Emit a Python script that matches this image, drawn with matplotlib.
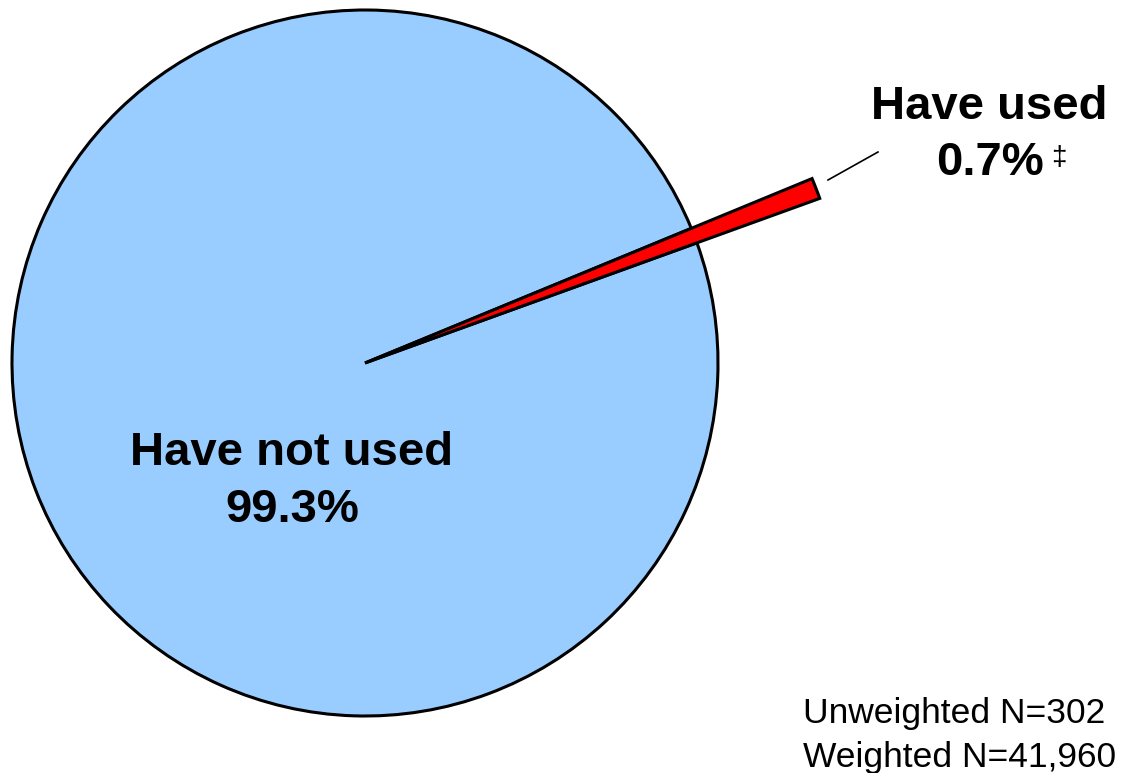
import matplotlib.pyplot as plt

# data
labels = ['Have used', 'Have not used']
values = [0.7, 99.3]
colors = ['#FF0000', '#99CCFF']
n_unweighted = 302
n_weighted = '41,960'

plt.rcParams['font.family'] = ['Liberation Sans', 'DejaVu Sans']

W, H = 1134, 773
cx, cy, R = 365, 363, 353  # pixel centre / radius of the pie

fig = plt.figure(figsize=(W / 100, H / 100), dpi=100)
ax = fig.add_axes([0, 0, 1, 1])

wedges, _ = ax.pie(values, colors=colors, startangle=19.9, counterclock=True,
                   wedgeprops=dict(edgecolor='black', linewidth=2.2))
# exploded "used" slice sticks out past the rim
wedges[0].set_radius(1.37)
wedges[0].set_zorder(3)

ax.set_xlim(-cx / R, (W - cx) / R)
ax.set_ylim(-(H - cy) / R, cy / R)
ax.set_aspect('equal')
ax.axis('off')


def px(x, y):
    return (x - cx) / R, (cy - y) / R


ax.text(*px(292, 453), 'Have not used', ha='center', va='center',
        fontsize=34, fontweight='bold')
ax.text(*px(292, 510), '%.1f%%' % values[1], ha='center', va='center',
        fontsize=34, fontweight='bold')
ax.text(*px(989, 107), labels[0], ha='center', va='center', fontsize=34, fontweight='bold')
ax.text(*px(990, 163), '%.1f%%' % values[0], ha='center', va='center', fontsize=34, fontweight='bold')
ax.text(*px(1051, 158), '\u2021', ha='left', va='center', fontsize=20)
ax.plot(*zip(px(828, 180), px(878, 152)), color='black', linewidth=1.2)

ax.text(*px(803, 713), 'Unweighted N=%d' % n_unweighted, ha='left', va='center', fontsize=25.5)
ax.text(*px(803, 757), 'Weighted N=%s' % n_weighted, ha='left', va='center', fontsize=25.5)

fig.savefig('out.png', dpi=100)
